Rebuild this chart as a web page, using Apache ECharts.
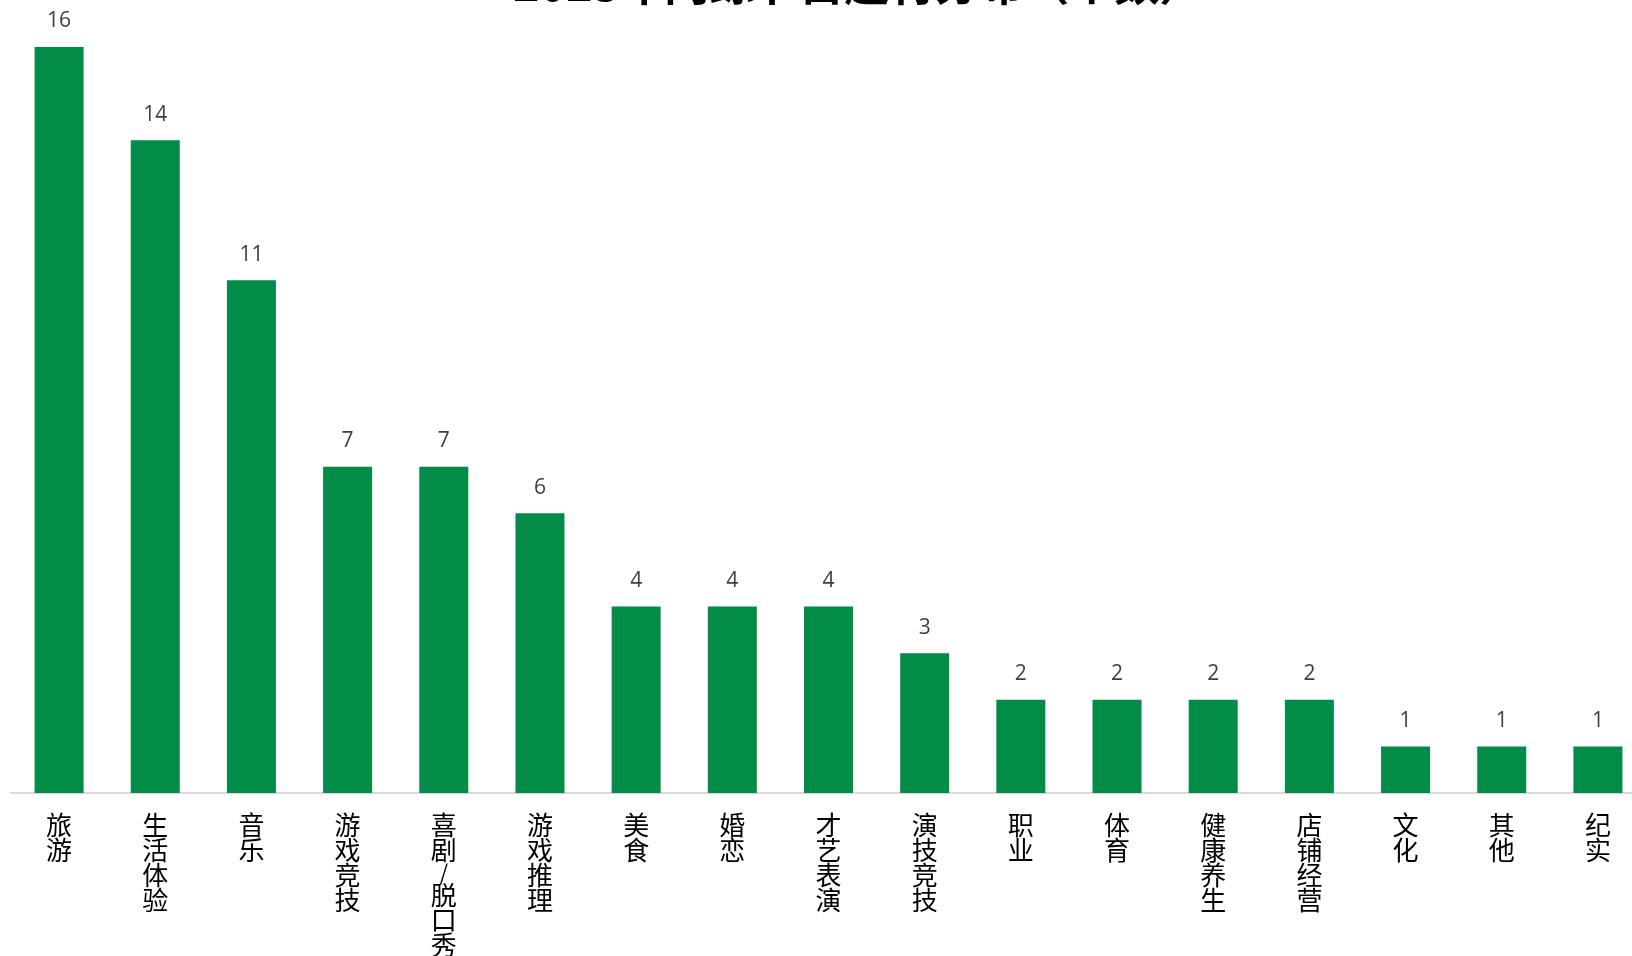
<!DOCTYPE html>
<html>
<head>
<meta charset="utf-8">
<script src="https://cdn.jsdelivr.net/npm/echarts@6/dist/echarts.min.js"></script>
<style>
html,body{margin:0;padding:0;background:#fff;overflow:hidden;}
#chart{width:1650px;height:956px;}
</style>
</head>
<body>
<div id="chart"></div>
<script>
const titleText = '2023年网综节目题材分布（个数）';
const categories = ['旅游','生活体验','音乐','游戏竞技','喜剧/脱口秀','游戏推理','美食','婚恋','才艺表演','演技竞技','职业','体育','健康养生','店铺经营','文化','其他','纪实'];
const values = [16,14,11,7,7,6,4,4,4,3,2,2,2,2,1,1,1];

const chart = echarts.init(document.getElementById('chart'));
chart.setOption({
  backgroundColor: '#ffffff',
  animation: false,
  title: {
    text: titleText,
    left: 508,
    top: -44,
    textStyle: { fontSize: 45, fontWeight: 'bold', color: '#000', fontFamily: 'Noto Sans CJK SC' }
  },
  grid: { left: 11, width: 1635, top: 47, bottom: 163, outerBoundsMode: 'none' },
  xAxis: {
    type: 'category',
    data: categories,
    axisLine: { show: true, lineStyle: { color: '#d9d9d9', width: 2 } },
    axisTick: { show: false },
    axisLabel: {
      interval: 0,
      margin: 20,
      verticalAlign: 'top',
      color: '#000',
      fontSize: 26,
      lineHeight: 25,
      fontFamily: 'Noto Sans CJK SC',
      formatter: function (v) {
        return v.split('').map(function (c) {
          return c === '/' ? '{s|/}' : '{n|' + c + '}';
        }).join('\n');
      },
      rich: {
        n: { fontSize: 26, lineHeight: 25, color: '#000', fontFamily: 'Noto Sans CJK SC' },
        s: { fontSize: 22, lineHeight: 20, color: '#000', fontFamily: 'Noto Sans CJK SC' }
      }
    }
  },
  yAxis: {
    type: 'value',
    min: 0,
    max: 16,
    show: false,
    splitLine: { show: false }
  },
  series: [{
    type: 'bar',
    data: values,
    barWidth: 49,
    itemStyle: { color: '#038C48' },
    label: {
      show: true,
      position: 'top',
      distance: 15,
      color: '#404040',
      fontSize: 21,
      fontFamily: 'Open Sans'
    }
  }]
});
</script>
</body>
</html>
